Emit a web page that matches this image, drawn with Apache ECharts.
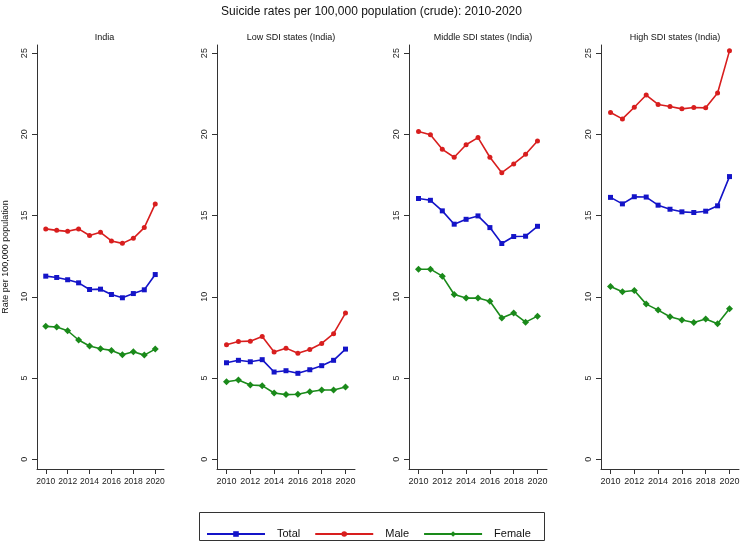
<!DOCTYPE html>
<html><head><meta charset="utf-8">
<script src="https://cdn.jsdelivr.net/npm/echarts@6/dist/echarts.min.js"></script>
<style>html,body{margin:0;padding:0;background:#fff}#c{width:743px;height:543px}</style>
</head><body><div id="c"></div>
<script>
var years = [2010,2011,2012,2013,2014,2015,2016,2017,2018,2019,2020];
var panelTitles = ['India','Low SDI states (India)','Middle SDI states (India)','High SDI states (India)'];
var seriesNames = ['Total','Male','Female'];
var yTicks = [0,5,10,15,20,25];
var xTicks = [2010,2012,2014,2016,2018,2020];

var indiaTotal  = [11.27,11.19,11.05,10.86,10.45,10.47,10.14,9.94,10.20,10.43,11.37];
var indiaMale   = [14.18,14.09,14.03,14.18,13.77,13.97,13.44,13.29,13.60,14.26,15.72];
var indiaFemale = [8.18,8.14,7.91,7.34,6.97,6.80,6.70,6.43,6.62,6.41,6.78];

var lowTotal  = [5.94,6.09,6.00,6.13,5.37,5.45,5.29,5.51,5.76,6.09,6.78];
var lowMale   = [7.05,7.25,7.27,7.56,6.60,6.84,6.52,6.76,7.13,7.73,9.00];
var lowFemale = [4.77,4.88,4.57,4.53,4.08,3.98,4.00,4.16,4.26,4.26,4.45];

var midTotal  = [16.05,15.94,15.29,14.47,14.77,14.98,14.26,13.28,13.71,13.73,14.34];
var midMale   = [20.18,19.98,19.08,18.59,19.36,19.80,18.59,17.64,18.18,18.77,19.59];
var midFemale = [11.70,11.70,11.27,10.14,9.92,9.92,9.73,8.69,9.00,8.44,8.81];

var highTotal  = [16.12,15.72,16.16,16.14,15.64,15.39,15.23,15.19,15.27,15.60,17.40];
var highMale   = [21.34,20.95,21.67,22.42,21.84,21.71,21.57,21.65,21.63,22.54,25.14];
var highFemale = [10.64,10.31,10.39,9.55,9.18,8.77,8.57,8.42,8.63,8.34,9.26];

var panels = [
  [indiaTotal, indiaMale, indiaFemale],
  [lowTotal, lowMale, lowFemale],
  [midTotal, midMale, midFemale],
  [highTotal, highMale, highFemale]
];

var colors = ['#1414c8','#d81e1e','#1a8a1a'];
var symbols = ['rect','circle','diamond'];
var symSizes = [5,5,7];
var gridLeft = [35,217,409,601];
var gridWidth = [129,138,138,138];
var FONT = 'Liberation Sans, Arial, sans-serif';
var axisCol = '#333';

var grids=[], xAxes=[], yAxes=[], series=[], titles=[];
titles.push({text:'Suicide rates per 100,000 population (crude): 2010-2020', left:'center', top:1,
  textStyle:{fontFamily:FONT, fontSize:12, fontWeight:'normal', color:'#111'}});
for (var p=0;p<4;p++){
  grids.push({left:gridLeft[p], top:45, width:gridWidth[p], height:424, containLabel:false});
  titles.push({text:panelTitles[p], left:gridLeft[p]+gridWidth[p]/2, top:28, textAlign:'center',
    textStyle:{fontFamily:FONT, fontSize:9, fontWeight:'normal', color:'#111'}});
  xAxes.push({type:'value', gridIndex:p, min:2009.2, max:2020.8,
    axisLine:{show:true, onZero:false, lineStyle:{color:axisCol, width:1}},
    axisTick:{show:true, length:5, customValues:xTicks, lineStyle:{color:axisCol}},
    axisLabel:{customValues:xTicks, margin:8, fontFamily:FONT, fontSize:p===0?8.5:9, color:'#222',
      hideOverlap:false, showMinLabel:true, showMaxLabel:true,
      formatter:function(v){return String(Math.round(v));}},
    splitLine:{show:false}});
  yAxes.push({type:'value', gridIndex:p, min:-0.6, max:25.5,
    name: p===0 ? 'Rate per 100,000 population' : '',
    nameLocation:'middle', nameGap:27, nameRotate:90,
    nameTextStyle:{fontFamily:FONT, fontSize:9, color:'#111'},
    axisLine:{show:true, onZero:false, lineStyle:{color:axisCol, width:1}},
    axisTick:{show:true, length:5, customValues:yTicks, lineStyle:{color:axisCol}},
    axisLabel:{customValues:yTicks, rotate:90, margin:8, fontFamily:FONT, fontSize:9, color:'#222',
      formatter:function(v){return String(Math.round(v));}},
    splitLine:{show:false}});
  for (var s=0;s<3;s++){
    var vals = panels[p][s];
    series.push({name:seriesNames[s], type:'line', xAxisIndex:p, yAxisIndex:p,
      data: years.map(function(y,i){return [y, vals[i]];}),
      symbol:symbols[s], symbolSize:symSizes[s], showSymbol:true,
      lineStyle:{color:colors[s], width:1.6}, itemStyle:{color:colors[s]},
      animation:false, silent:true});
  }
}

var chart = echarts.init(document.getElementById('c'), null, {renderer:'canvas'});
chart.setOption({
  backgroundColor:'#fff',
  animation:false,
  title: titles,
  grid: grids, xAxis: xAxes, yAxis: yAxes, series: series,
  legend:{data:seriesNames, left:201, top:523.5, itemWidth:58, itemHeight:7, itemGap:14,
    textStyle:{fontFamily:FONT, fontSize:11, color:'#111', padding:[0,0,0,7]}},
  graphic:[{type:'rect', shape:{x:199.5, y:512.5, width:345, height:28},
    style:{fill:'none', stroke:'#333', lineWidth:1}, silent:true}]
});
</script></body></html>
